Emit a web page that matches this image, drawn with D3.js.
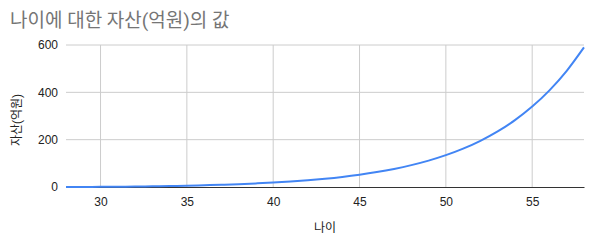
<!DOCTYPE html>
<html>
<head>
<meta charset="utf-8">
<script src="https://cdn.jsdelivr.net/npm/d3@7"></script>
<style>
  body { margin: 0; background: #fff; }
  text { font-family: "Liberation Sans", Arial, "Noto Sans CJK KR", sans-serif; }
</style>
</head>
<body>
<div id="wrapper"></div>
<script>
// ages and asset values (억원)
const ages = [28, 29, 30, 31, 32, 33, 34, 35, 36, 37, 38, 39, 40, 41, 42, 43,
  44, 45, 46, 47, 48, 49, 50, 51, 52, 53, 54, 55, 56, 57, 58]
const assets = [0, 0.3, 0.6, 1.0, 1.7, 2.7, 4.0, 5.5, 7.3, 9.4, 12.0, 15.1, 18.8,
  23.3, 28.6, 35.0, 42.7, 52.0, 63.1, 76.4, 92.4, 111.5, 134.5, 162.1, 195.3,
  235.0, 282.7, 340.0, 408.5, 491.0, 590.0]
const xTicks = [30, 35, 40, 45, 50, 55]
const yTicks = [0, 200, 400, 600]

const data = ages.map((a, i) => ({ age: a, value: assets[i] }))
const xAccessor = d => d.age
const yAccessor = d => d.value

let dms = {
  width: 596,
  height: 246,
  margins: { top: 45, right: 12, bottom: 59, left: 66 }
}
dms.boundedWidth = dms.width - dms.margins.left - dms.margins.right
dms.boundedHeight = dms.height - dms.margins.top - dms.margins.bottom

const wrapper = d3.select("#wrapper")
  .append("svg")
  .attr("width", dms.width)
  .attr("height", dms.height)

wrapper.append("text")
  .attr("x", 10)
  .attr("y", 27)
  .attr("fill", "#757575")
  .style("font-family", "Roboto, 'Noto Sans CJK KR', sans-serif")
  .style("font-size", "19px")
  .text("나이에 대한 자산(억원)의 값")

const bounds = wrapper.append("g")
  .attr("transform", `translate(${dms.margins.left},${dms.margins.top})`)

const xScale = d3.scaleLinear()
  .domain(d3.extent(data, xAccessor))
  .range([0, dms.boundedWidth])

const yScale = d3.scaleLinear()
  .domain([0, 600])
  .range([dms.boundedHeight, 0])

// gridlines
bounds.append("g")
  .selectAll("line")
  .data(yTicks.filter(t => t !== 0))
  .join("line")
  .attr("x1", 0)
  .attr("x2", dms.boundedWidth)
  .attr("y1", d => yScale(d))
  .attr("y2", d => yScale(d))
  .attr("stroke", "#cccccc")

bounds.append("g")
  .selectAll("line")
  .data(xTicks)
  .join("line")
  .attr("x1", d => xScale(d))
  .attr("x2", d => xScale(d))
  .attr("y1", 0)
  .attr("y2", dms.boundedHeight)
  .attr("stroke", "#cccccc")

// axes
const yAxis = bounds.append("g")
  .call(d3.axisLeft(yScale).tickValues(yTicks).tickSize(0).tickPadding(8))
yAxis.select(".domain").remove()
yAxis.selectAll("text")
  .attr("fill", "#222")
  .style("font-size", "12px")

const xAxis = bounds.append("g")
  .attr("transform", `translate(0,${dms.boundedHeight})`)
  .call(d3.axisBottom(xScale).tickValues(xTicks).tickSize(0).tickPadding(10))
xAxis.select(".domain").attr("stroke", "#333")
xAxis.selectAll("text")
  .attr("fill", "#222")
  .style("font-size", "12px")

// line
const lineGenerator = d3.line()
  .x(d => xScale(xAccessor(d)))
  .y(d => yScale(yAccessor(d)))
  .curve(d3.curveMonotoneX)

bounds.append("path")
  .attr("d", lineGenerator(data))
  .attr("fill", "none")
  .attr("stroke", "#4285f4")
  .attr("stroke-width", 2)

// axis titles
wrapper.append("text")
  .attr("transform", `translate(21,${dms.margins.top + dms.boundedHeight / 2 + 4}) rotate(-90)`)
  .attr("text-anchor", "middle")
  .attr("fill", "#222")
  .style("font-size", "12px")
  .text("자산(억원)")

wrapper.append("text")
  .attr("x", dms.margins.left + dms.boundedWidth / 2)
  .attr("y", 232)
  .attr("text-anchor", "middle")
  .attr("fill", "#222")
  .style("font-size", "12px")
  .text("나이")
</script>
</body>
</html>
